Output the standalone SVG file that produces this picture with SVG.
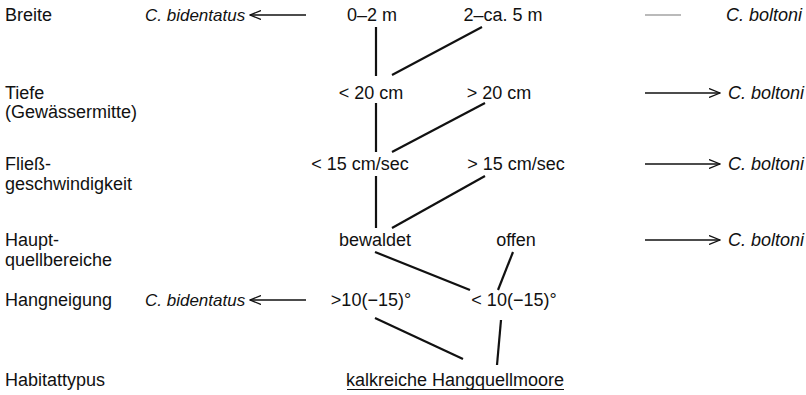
<svg xmlns="http://www.w3.org/2000/svg" width="806" height="395" viewBox="0 0 806 395">
<defs>
<style>
text{font-family:"Liberation Sans",Arial,sans-serif;font-size:18px;fill:#111}
.it{font-style:italic}
.sm{font-size:17px}
.m{text-anchor:middle}
.ln{stroke:#111;stroke-width:2.2;fill:none;stroke-linecap:butt}
.ar{stroke:#111;stroke-width:1.3;fill:none}
</style>
<marker id="ah" viewBox="0 0 12 10" refX="11" refY="5" markerWidth="12" markerHeight="10" markerUnits="userSpaceOnUse" orient="auto">
<path d="M0,0.5 L11,5 L0,9.5" fill="none" stroke="#111" stroke-width="1.3"/>
</marker>
</defs>
<rect width="806" height="395" fill="#fff"/>
<g id="labels">
<text x="5" y="21">Breite</text>
<text x="5" y="99">Tiefe</text>
<text x="5" y="118">(Gewässermitte)</text>
<text x="5" y="170">Fließ-</text>
<text x="5" y="190">geschwindigkeit</text>
<text x="5" y="246">Haupt-</text>
<text x="5" y="266">quellbereiche</text>
<text x="5" y="306">Hangneigung</text>
<text x="5" y="386">Habitattypus</text>
</g>
<g id="n-breite-a"><text class="m" x="372" y="21">0–2 m</text></g>
<g id="n-breite-b"><text class="m" x="503" y="21">2–ca. 5 m</text></g>
<g id="n-tiefe-a"><text class="m" x="371" y="99">&lt; 20 cm</text></g>
<g id="n-tiefe-b"><text class="m" x="499" y="99">&gt; 20 cm</text></g>
<g id="n-fliess-a"><text class="m" x="360" y="170">&lt; 15 cm/sec</text></g>
<g id="n-fliess-b"><text class="m" x="516" y="170">&gt; 15 cm/sec</text></g>
<g id="n-haupt-a"><text class="m" x="375" y="246">bewaldet</text></g>
<g id="n-haupt-b"><text class="m" x="516" y="246">offen</text></g>
<g id="n-hang-a"><text class="m" x="371" y="306">&gt;10(−15)°</text></g>
<g id="n-hang-b"><text class="m" x="514" y="306">&lt; 10(−15)°</text></g>
<g id="n-habitat"><text class="m" x="455" y="386">kalkreiche Hangquellmoore</text><line x1="347" y1="389.5" x2="564" y2="389.5" stroke="#111" stroke-width="1.2"/></g>
<g id="n-bident-1"><text class="it sm" x="145" y="21">C. bidentatus</text></g>
<g id="n-bident-2"><text class="it sm" x="145" y="306">C. bidentatus</text></g>
<g id="n-bolt-1"><text class="it" x="726" y="21">C. boltoni</text></g>
<g id="n-bolt-2"><text class="it" x="728" y="99">C. boltoni</text></g>
<g id="n-bolt-3"><text class="it" x="728" y="170">C. boltoni</text></g>
<g id="n-bolt-4"><text class="it" x="728" y="246">C. boltoni</text></g>
<g id="connectors">
<line class="ln" x1="376" y1="27" x2="376" y2="76"/>
<line class="ln" x1="482" y1="27" x2="392" y2="75"/>
<line class="ln" x1="376" y1="103" x2="376" y2="152"/>
<line class="ln" x1="485" y1="103" x2="392" y2="152"/>
<line class="ln" x1="376" y1="176" x2="376" y2="228"/>
<line class="ln" x1="485" y1="176" x2="392" y2="228"/>
<line class="ln" x1="375" y1="252" x2="470" y2="290"/>
<line class="ln" x1="513" y1="252" x2="498" y2="290"/>
<line class="ln" x1="375" y1="318" x2="463" y2="359"/>
<line class="ln" x1="501" y1="320" x2="497" y2="365"/>
<line class="ar" x1="306" y1="15" x2="250" y2="15" marker-end="url(#ah)"/>
<line class="ar" x1="306" y1="300" x2="250" y2="300" marker-end="url(#ah)"/>
<line x1="645" y1="15" x2="681" y2="15" stroke="#777" stroke-width="1.2"/>
<line class="ar" x1="645" y1="93" x2="720" y2="93" marker-end="url(#ah)"/>
<line class="ar" x1="645" y1="164" x2="720" y2="164" marker-end="url(#ah)"/>
<line class="ar" x1="645" y1="240" x2="720" y2="240" marker-end="url(#ah)"/>
</g>
</svg>
